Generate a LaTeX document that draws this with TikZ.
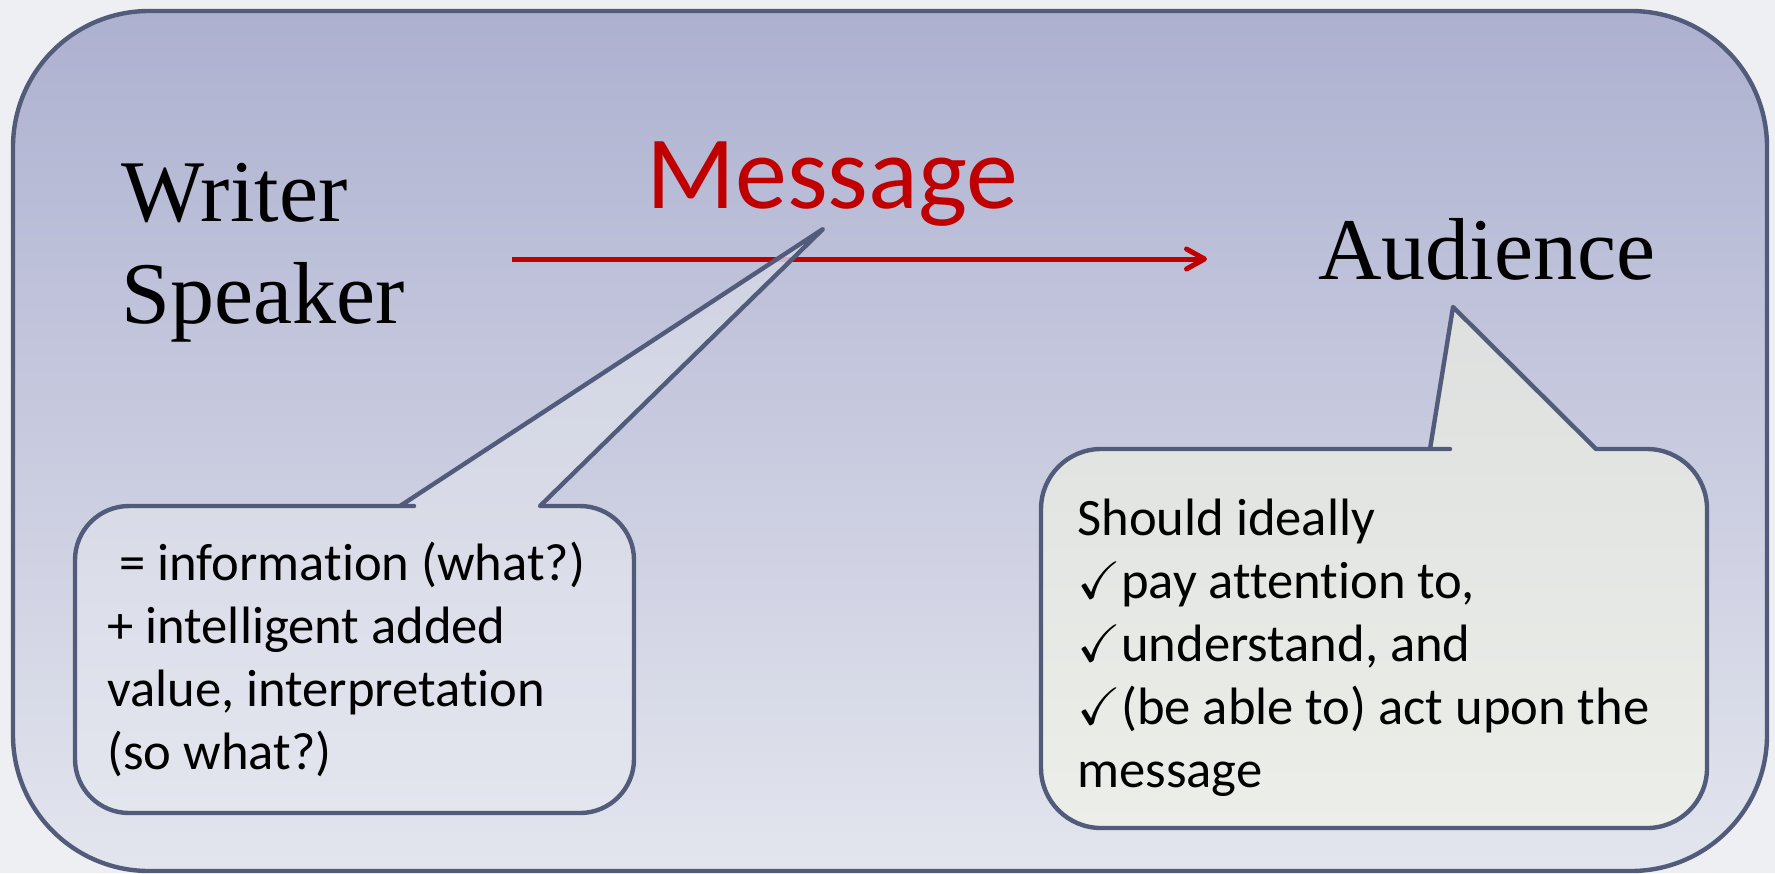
\documentclass[tikz,border=0pt]{standalone}
\usepackage{amssymb}
\usepackage{fontspec}
\newfontfamily\carlito[Ligatures=NoCommon]{Carlito}
\newfontfamily\tnr{Liberation Serif}
\usetikzlibrary{arrows.meta}
\definecolor{pagegray}{HTML}{EDEFF3}
\definecolor{frametop}{HTML}{ADB1D0}
\definecolor{framebot}{HTML}{E3E5EE}
\definecolor{slate}{HTML}{535B7B}
\definecolor{msgred}{HTML}{C00000}
\definecolor{lbubtop}{HTML}{D3D6E4}
\definecolor{lbubbot}{HTML}{E5E7EF}
\definecolor{rbubtop}{HTML}{DEE0DF}
\definecolor{rbubbot}{HTML}{ECEEE9}
\newcommand{\callout}[9]{
\draw[#9](#6+40,#2)--(#3,#2)--(#3,#4)--(#1,#4)--(#1,#2)--(#5-40,#2)[sharp corners]--(#5,#2)--(#7,#8)--(#6,#2)--cycle;
}
\newcommand{\tick}{$\checkmark$}

\begin{document}
\begin{tikzpicture}[x=0.5pt,y=-0.5pt,
 frame/.style={draw=slate,line width=2.2pt,rounded corners=68pt,top color=frametop,bottom color=framebot},
 leftbub/.style={draw=slate,line width=2.2pt,line join=round,rounded corners=27pt,top color=lbubtop,bottom color=lbubbot,fill opacity=0.85},
 rightbub/.style={draw=slate,line width=2.2pt,line join=round,rounded corners=30pt,top color=rbubtop,bottom color=rbubbot},
 bigserif/.style={font=\tnr\fontsize{44}{51}\selectfont,inner sep=0pt,align=left},
 msgfont/.style={font=\carlito\fontsize{52}{60}\selectfont,text=msgred,inner sep=0pt},
 bubtext/.style={font=\carlito\fontsize{26.3}{31.5}\selectfont,inner sep=0pt,align=left},
 msgarrow/.style={draw=msgred,line width=2.5pt,-{Straight Barb[length=9pt,width=10pt,round]}}]

\useasboundingbox (0,0) rectangle (1775,873);
\fill[pagegray] (0,0) rectangle (1775,873);

\path[frame] (13,11) rectangle (1767,871);

% base of a multi-line node = its last line
\node[bigserif,anchor=base west] (writer) at (121,323) {Writer\\Speaker};
\node[msgfont,anchor=base west] (message) at (646,208) {Message};
\node[bigserif,anchor=base west] (audience) at (1318,279) {Audience};

\coordinate (from) at (512,259);
\coordinate (to) at (1207,259);
\draw[msgarrow] (from) -- (to);

\callout{75}{506}{634}{813}{400}{540}{823}{229}{leftbub}
\callout{1041}{449}{1707}{828}{1430}{1596}{1453}{307}{rightbub}

\node[bubtext,anchor=base west] (info) at (107,769) {\ = information (what?)\\+ intelligent added\\value, interpretation\\(so what?)};

\node[bubtext,anchor=base west] (ideal) at (1077,787) {Should ideally\\\tick pay attention to,\\\tick understand, and\\\tick(be able to) act upon the\\message};

\end{tikzpicture}
\end{document}
